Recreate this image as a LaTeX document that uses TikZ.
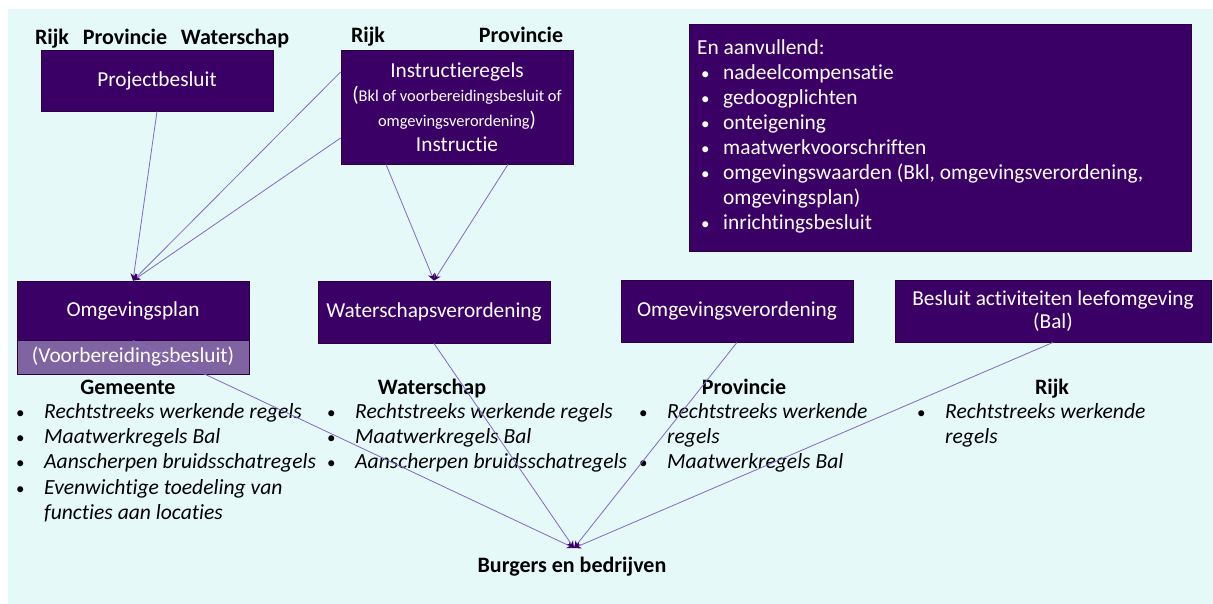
\documentclass[tikz,border=0pt]{standalone}
\usepackage{fontspec}
\setmainfont{Carlito}[Ligatures=NoCommon]
\usetikzlibrary{arrows.meta}
\definecolor{bgc}{HTML}{E6F9F9}
\definecolor{boxc}{HTML}{3A0066}
\definecolor{boxline}{HTML}{2A0048}
\definecolor{lightc}{HTML}{8064A2}
\definecolor{linec}{HTML}{8466C6}
\begin{document}
\begin{tikzpicture}[x=1pt,y=-1pt,
  box/.style={draw=boxline, line width=0.8pt, fill=boxc, text=white, inner sep=0pt, align=center,
    font=\fontsize{21.3}{25}\selectfont},
  lbl/.style={anchor=base, font=\bfseries\fontsize{22}{24}\selectfont, inner sep=0pt},
  lst/.style={anchor=north west, inner sep=0pt, align=left, font=\itshape\fontsize{21.6}{25.3}\selectfont},
  conn/.style={draw=linec, line width=0.8pt, -{Stealth[length=7pt,width=7pt,color=boxc]}}]
\fill[bgc] (8,9) rectangle (1213,604);
\useasboundingbox (0,0) rectangle (1213,604);
\newcommand{\bul}{\makebox[23pt][l]{\upshape\hspace*{-5pt}\fontsize{17}{17}\selectfont\textbullet}}
\newcommand{\ind}{\hspace*{23pt}}
\newcommand{\xbul}{\makebox[26pt][l]{\hspace*{4pt}\fontsize{17}{17}\selectfont\textbullet}}
\newcommand{\xind}{\hspace*{26pt}}
% top boxes
\node[box, minimum width=232pt, minimum height=61pt] (proj) at (157,80.5) {Projectbesluit};
\node[box, minimum width=232pt, minimum height=114pt] (instr) at (457,107)
  {Instructieregels\\[-1pt]
   {\fontsize{16.4}{23}\selectfont{\fontsize{21}{23}\selectfont(}Bkl of voorbereidingsbesluit of}\\
   {\fontsize{16.4}{23}\selectfont omgevingsverordening{\fontsize{21}{23}\selectfont)}}\\[0pt]
   Instructie};
\node[box, minimum width=502pt, minimum height=227pt] (extra) at (940,137.5) {};
\node[anchor=north west, inner sep=0pt, align=left, text=white, font=\fontsize{21.4}{25.1}\selectfont] (extratxt) at (697,39)
  {En aanvullend:\\
   \xbul nadeelcompensatie\\
   \xbul gedoogplichten\\
   \xbul onteigening\\
   \xbul maatwerkvoorschriften\\
   \xbul omgevingswaarden (Bkl, omgevingsverordening,\\
   \xind omgevingsplan)\\
   \xbul inrichtingsbesluit};
% labels above
\node[lbl] (l1) at (52,45) {Rijk};
\node[lbl] (l2) at (125,45) {Provincie};
\node[lbl] (l3) at (235,45) {Waterschap};
\node[lbl] (l4) at (368,43) {Rijk};
\node[lbl] (l5) at (521,43) {Provincie};
% middle boxes
\node[box, minimum width=232pt, minimum height=59pt] (omg) at (133,310.5) {Omgevingsplan};
\node[box, fill=lightc, minimum width=232pt, minimum height=34pt] (voor) at (133,357) {(Voorbereidingsbesluit)};
\node[box, minimum width=232pt, minimum height=62pt] (ws) at (434,312) {Waterschapsverordening};
\node[box, minimum width=232pt, minimum height=62pt] (ov) at (737,311) {Omgevingsverordening};
\node[box, minimum width=316pt, minimum height=62pt] (bal) at (1053,311) {Besluit activiteiten leefomgeving\\[-2pt](Bal)};
% headings
\node[lbl] (h1) at (128,394) {Gemeente};
\node[lbl] (h2) at (432,394) {Waterschap};
\node[lbl] (h3) at (744,394) {Provincie};
\node[lbl] (h4) at (1052,394) {Rijk};
% lists
\node[lst] (list1) at (21,403)
  {\bul Rechtstreeks werkende regels\\
   \bul Maatwerkregels Bal\\
   \bul Aanscherpen bruidsschatregels\\
   \bul Evenwichtige toedeling van\\
   \ind functies aan locaties};
\node[lst] (list2) at (332,403)
  {\bul Rechtstreeks werkende regels\\
   \bul Maatwerkregels Bal\\
   \bul Aanscherpen bruidsschatregels};
\node[lst] (list3) at (644,403)
  {\bul Rechtstreeks werkende\\
   \ind regels\\
   \bul Maatwerkregels Bal};
\node[lst] (list4) at (922,403)
  {\bul Rechtstreeks werkende\\
   \ind regels};
\node[lbl] (burg) at (572,572) {Burgers en bedrijven};
\coordinate (bb) at (574,548);
% connectors
\draw[conn] (proj.south) -- (omg.north);
\draw[conn] ([yshift=35pt]instr.west) -- (omg.north);
\draw[conn] ([yshift=-31pt]instr.west) -- (omg.north);
\draw[conn] ([xshift=-71pt]instr.south) -- (ws.north);
\draw[conn] ([xshift=51pt]instr.south) -- (ws.north);
\draw[conn] (omg.south) -- (bb);
\draw[conn] (ws.south) -- (bb);
\draw[conn] (ov.south) -- (bb);
\draw[conn] (bal.south) -- (bb);
\end{tikzpicture}
\end{document}
